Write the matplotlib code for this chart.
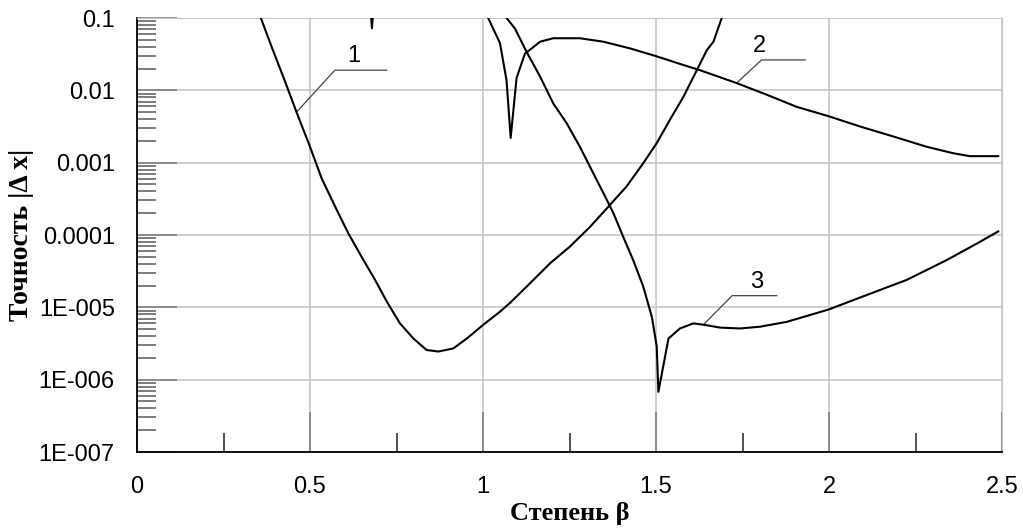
import numpy as np
import matplotlib
matplotlib.use("Agg")
import matplotlib.pyplot as plt
from matplotlib.ticker import FixedLocator, NullFormatter

# curve 1
beta1 = [0.35, 0.358, 0.389, 0.428, 0.461, 0.500, 0.534, 0.577, 0.611, 0.649, 0.688,
         0.722, 0.760, 0.799, 0.837, 0.871, 0.914, 0.953, 1.001, 1.049, 1.078, 1.131,
         1.194, 1.251, 1.309, 1.362, 1.415, 1.463, 1.502, 1.540, 1.579, 1.618, 1.647,
         1.666, 1.690, 1.70]
err1 = [1.2e-1, 1.0e-1, 4.0e-2, 1.32e-2, 5.0e-3, 1.66e-3, 6.0e-4, 2.24e-4, 1.05e-4, 5.0e-5, 2.4e-5,
        1.2e-5, 6.0e-6, 3.7e-6, 2.57e-6, 2.45e-6, 2.7e-6, 3.7e-6, 5.75e-6, 8.7e-6, 1.15e-5, 2.04e-5,
        4.07e-5, 6.9e-5, 1.29e-4, 2.45e-4, 4.7e-4, 9.8e-4, 1.86e-3, 3.9e-3, 8.1e-3, 1.9e-2, 3.6e-2,
        4.7e-2, 1.0e-1, 1.3e-1]

# curve 2
beta2 = [0.675, 0.679, 0.683, np.nan, 1.005, 1.015, 1.049, 1.068, 1.080, 1.097, 1.121, 1.165,
         1.203, 1.280, 1.348, 1.425, 1.502, 1.579, 1.627, 1.733, 1.820, 1.907, 1.998,
         2.090, 2.186, 2.282, 2.359, 2.407, 2.489]
err2 = [1.3e-1, 7.2e-2, 1.3e-1, np.nan, 1.3e-1, 1.0e-1, 4.5e-2, 1.38e-2, 2.2e-3, 1.48e-2, 3.2e-2, 4.7e-2,
        5.25e-2, 5.25e-2, 4.7e-2, 3.8e-2, 2.95e-2, 2.24e-2, 1.9e-2, 1.26e-2, 8.7e-3, 5.9e-3, 4.4e-3,
        3.16e-3, 2.3e-3, 1.66e-3, 1.35e-3, 1.23e-3, 1.23e-3]

# curve 3
beta3 = [1.060, 1.068, 1.092, 1.126, 1.165, 1.203, 1.242, 1.280, 1.319, 1.348, 1.377, 1.405,
         1.434, 1.463, 1.488, 1.502, 1.507, 1.536, 1.569, 1.608, 1.637, 1.685, 1.743, 1.801,
         1.878, 1.998, 2.109, 2.225, 2.340, 2.427, 2.489]
err3 = [1.3e-1, 1.0e-1, 7.2e-2, 3.4e-2, 1.55e-2, 6.6e-3, 3.5e-3, 1.66e-3, 7.1e-4, 3.8e-4, 2.0e-4, 9.5e-5,
        4.5e-5, 1.95e-5, 7.4e-6, 2.9e-6, 6.8e-7, 3.7e-6, 5.1e-6, 6.0e-6, 5.75e-6, 5.25e-6, 5.1e-6, 5.4e-6,
        6.3e-6, 9.3e-6, 1.48e-5, 2.4e-5, 4.5e-5, 7.6e-5, 1.12e-4]

xticks = [0, 0.5, 1, 1.5, 2, 2.5]
xtick_labels = ["0", "0.5", "1", "1.5", "2", "2.5"]
yticks = [1e-7, 1e-6, 1e-5, 1e-4, 1e-3, 1e-2, 1e-1]
ytick_labels = ["1E-007", "1E-006", "1E-005", "0.0001", "0.001", "0.01", "0.1"]

fig = plt.figure(figsize=(10.23, 5.29), dpi=100)
ax = fig.add_axes([137 / 1023, 1 - 452 / 529, 865 / 1023, 434 / 529])

grid_c = "#c8c8c8"
for c, e in [(beta1, err1), (beta2, err2), (beta3, err3)]:
    ax.plot(c, e, color="black", lw=1.5, zorder=3)

ax.set_yscale("log")
ax.set_xlim(0, 2.5)
ax.set_ylim(1e-7, 0.1)

ax.xaxis.set_major_locator(FixedLocator(xticks))
ax.set_xticklabels(xtick_labels, fontsize=17, family="Liberation Sans")
ax.xaxis.set_minor_locator(FixedLocator([0.25, 0.75, 1.25, 1.75, 2.25]))
ax.yaxis.set_major_locator(FixedLocator(yticks))
ax.set_yticklabels(ytick_labels, fontsize=17, family="Liberation Sans")
minors = [m * 10.0 ** k for k in range(-7, -1) for m in range(2, 10)]
ax.yaxis.set_minor_locator(FixedLocator(minors))
ax.yaxis.set_minor_formatter(NullFormatter())

ax.tick_params(axis="x", which="major", direction="in", length=29, width=1.2,
               color="#808080", pad=17)
ax.tick_params(axis="y", which="major", direction="in", length=29, width=1.2,
               color="#808080", pad=16)
ax.tick_params(axis="x", which="minor", direction="in", length=14, width=1.2, color="#333333")
ax.tick_params(axis="y", which="minor", direction="in", length=14, width=1.2, color="#666666")

ax.grid(True, which="major", color=grid_c, lw=1.2, zorder=0)
ax.spines["left"].set_color("black")
ax.spines["bottom"].set_color("black")
ax.spines["left"].set_linewidth(1.3)
ax.spines["bottom"].set_linewidth(1.3)
ax.spines["top"].set_color(grid_c)
ax.spines["right"].set_color(grid_c)

ax.set_xlabel("Степень β", fontsize=19, family="Liberation Serif", fontweight="bold", labelpad=3)
ax.set_ylabel("Точность |Δ x|", fontsize=20, family="Liberation Serif", fontweight="bold", labelpad=3)

# curve labels with leader lines
leaders = [
    ("1", [0.461, 0.572, 0.722], [5.0e-3, 1.9e-2, 1.9e-2], 0.626),
    ("2", [1.733, 1.805, 1.931], [1.26e-2, 2.63e-2, 2.63e-2], 1.800),
    ("3", [1.637, 1.720, 1.849], [5.75e-6, 1.45e-5, 1.45e-5], 1.791),
]
for txt, lx, ly, tx in leaders:
    ax.plot(lx, ly, color="#444444", lw=0.9, zorder=2)
    ax.text(tx, ly[-1] * 1.1, txt, ha="center", va="bottom", fontsize=17,
            family="Liberation Sans")

fig.savefig("out.png", dpi=100)
